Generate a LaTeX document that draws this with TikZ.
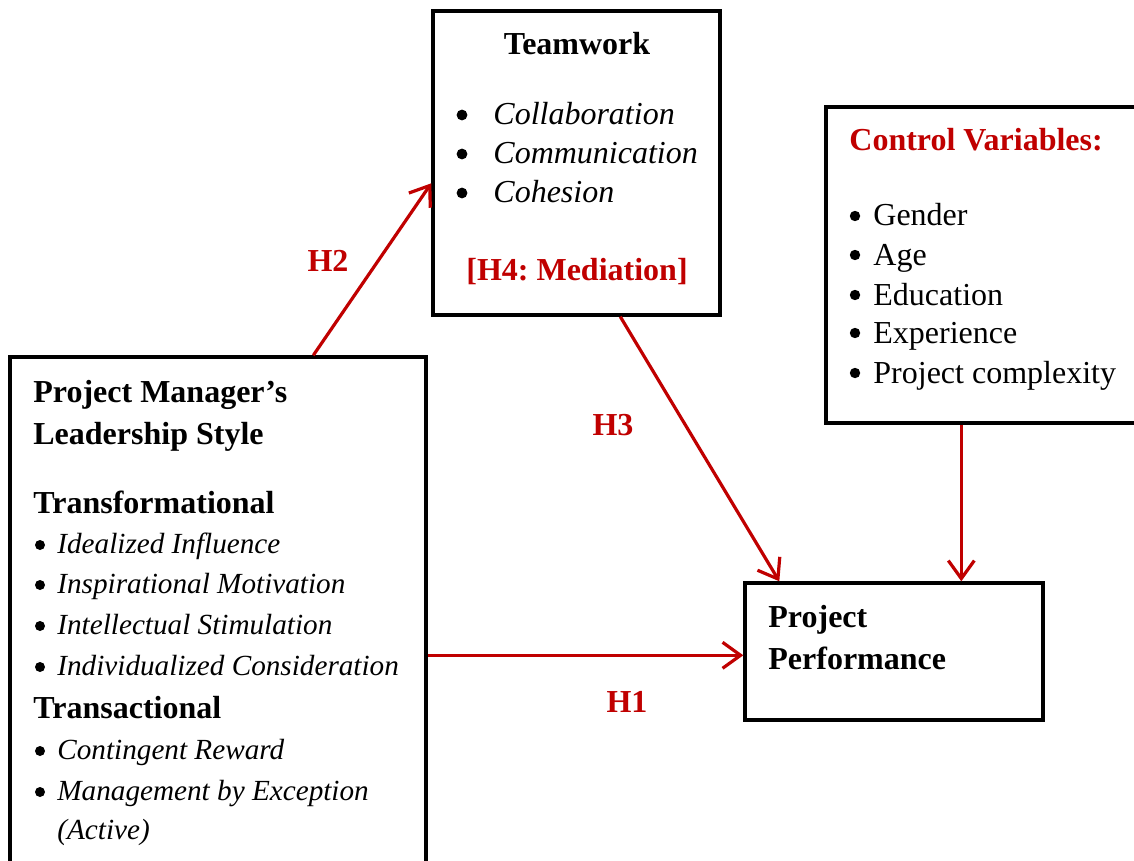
\documentclass[tikz,border=0pt]{standalone}
\usepackage{fontspec}
\setmainfont{Liberation Serif}
\usetikzlibrary{arrows.meta,calc,fit}
\definecolor{darkred}{HTML}{C00000}
\frenchspacing
\tikzset{
  box/.style={draw=black, line width=1.7pt, inner sep=0pt, rectangle},
  txt/.style={anchor=base west, inner sep=0pt, font=\fontsize{16}{19}\selectfont},
  hd/.style={txt, font=\fontsize{16}{19}\selectfont\bfseries},
  itm/.style={txt, font=\fontsize{16}{19}\selectfont\itshape},
  sitm/.style={txt, font=\fontsize{14.6}{18}\selectfont\itshape},
  lab/.style={inner sep=0pt, text=darkred, font=\fontsize{16}{19}\selectfont\bfseries},
  arr/.style={draw=darkred, line width=1.6pt, -{Straight Barb[length=9pt,width=13pt,line width=1.6pt]}},
  dot/.style={fill=black}
}
\begin{document}
\begin{tikzpicture}[x=0.5pt,y=-0.5pt]
\fill[white] (0,0) rectangle (1134,861);
\useasboundingbox (0,0) rectangle (1134,861);

% boxes
\node[box, fit={(433,11) (720,315)}] (team) {};
\node[box, fit={(826,107) (1160,423)}] (ctrl) {};
\node[box, fit={(10,357) (426,920)}] (lbox) {};
\node[box, fit={(745,583) (1043,720)}] (perf) {};

% teamwork
\node[hd, anchor=base] (tw) at (577,55) {Teamwork};
\foreach \yy in {115,154,193} \fill[dot] (462,\yy) circle[radius=2.7pt];
\node[itm] (tw1) at (493,125) {Collaboration};
\node[itm] (tw2) at (493,164) {Communication};
\node[itm] (tw3) at (493,203) {Cohesion};
\node[lab, anchor=base] (h4) at (577,280) {[H4: Mediation]};

% control variables
\node[hd, text=darkred] (cv) at (849,151) {Control Variables:};
\foreach \yy in {216,255,295,333,373} \fill[dot] (855,\yy) circle[radius=2.6pt];
\node[txt] (cv1) at (873,226) {Gender};
\node[txt] (cv2) at (873,265) {Age};
\node[txt] (cv3) at (873,305) {Education};
\node[txt] (cv4) at (873,343) {Experience};
\node[txt] (cv5) at (873,383) {Project complexity};

% leadership style
\node[hd] (ls1) at (33,402) {Project Manager’s};
\node[hd] (ls2) at (33,444) {Leadership Style};
\node[hd] (tf) at (33,513) {Transformational};
\foreach \yy in {545,585,626,667,751,792} \fill[dot] (40,\yy) circle[radius=2.5pt];
\node[sitm] (tf1) at (57,553) {Idealized Influence};
\node[sitm] (tf2) at (57,593) {Inspirational Motivation};
\node[sitm] (tf3) at (57,634) {Intellectual Stimulation};
\node[sitm] (tf4) at (57,675) {Individualized Consideration};
\node[hd] (ta) at (33,718) {Transactional};
\node[sitm] (ta1) at (57,759) {Contingent Reward};
\node[sitm] (ta2) at (57,800) {Management by Exception};
\node[sitm] (ta3) at (57,839) {(Active)};

% project performance
\node[hd] (pp1) at (768,627) {Project};
\node[hd] (pp2) at (768,669) {Performance};

% hypothesis labels
\node[lab] (h2) at (328,261) {H2};
\node[lab] (h3) at (613,425) {H3};
\node[lab] (h1) at (627,702) {H1};

% paths
\draw[arr] ($(lbox.north west)+(305,0)$) -- ($(team.north west)+(0,174)$);
\draw[arr] ($(team.south west)+(189,0)$) -- ($(perf.north west)+(36,0)$);
\draw[arr] ($(ctrl.south west)+(137,0)$) -- ($(perf.north west)+(218,0)$);
\draw[arr] ($(lbox.north east)+(0,300)$) -- ($(perf.north west)+(0,74)$);
\end{tikzpicture}
\end{document}
